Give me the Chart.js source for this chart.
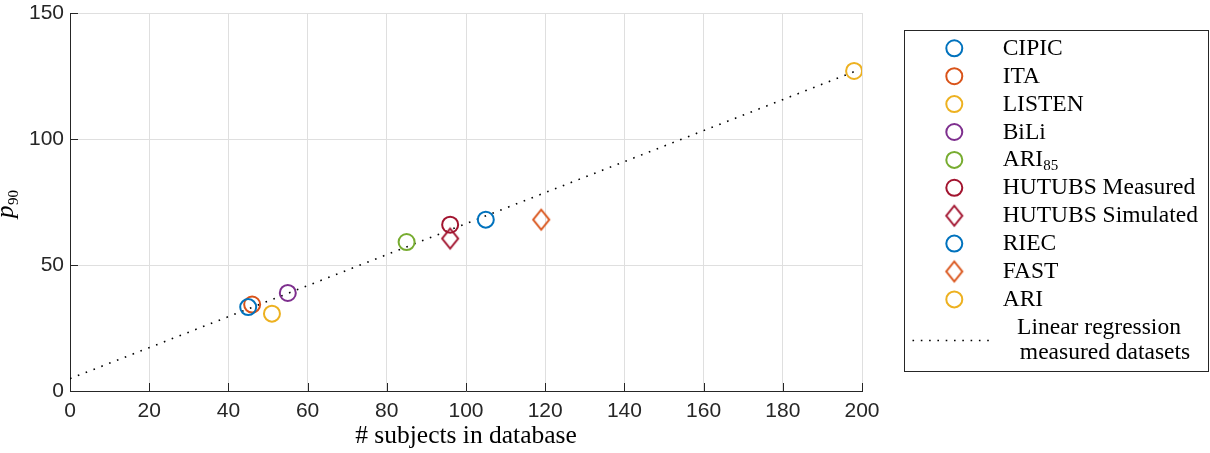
<!DOCTYPE html>
<html><head><meta charset="utf-8">
<script src="https://cdn.jsdelivr.net/npm/chart.js@4.4.0/dist/chart.umd.min.js"></script>
<style>html,body{margin:0;padding:0;background:#fff}#wrap{position:relative;width:1210px;height:453px}</style>
</head><body><div id="wrap"><canvas id="c" width="1210" height="453"></canvas></div>
<script>
const datasetNames = ['CIPIC','ITA','LISTEN','BiLi','ARI85','HUTUBS Measured','HUTUBS Simulated','RIEC','FAST','ARI'];
const subjects = [45, 46, 51, 55, 85, 96, 96, 105, 119, 198];
const p90 = [33.3, 34.3, 30.7, 38.9, 59.1, 66, 60.5, 68, 68, 127];
const markerKinds = ['circle','circle','circle','circle','circle','circle','diamond','circle','diamond','circle'];
const colors = ['#0072BD','#D95319','#EDB120','#7E2F8E','#77AC30','#A2142F','#A2142F','#0072BD','#D95319','#EDB120'];
const regressionX = [0, 198];
const regressionY = [4.9, 126.7];
const regressionLabel = ['Linear regression', 'measured datasets'];
const xTickValues = [0,20,40,60,80,100,120,140,160,180,200];
const yTickValues = [0,50,100,150];
const xTitle = '# subjects in database';

const AX = '#262626';
const SANS = '"Liberation Sans", Arial, sans-serif';
const SERIF = '"Liberation Serif", "Times New Roman", serif';

function diamondCanvas(color) {
  const c = document.createElement('canvas');
  c.width = 24; c.height = 28;
  const g = c.getContext('2d');
  const cx = 12, cy = 14, hw = 8, hh = 10;
  g.strokeStyle = color; g.lineWidth = 2;
  g.beginPath();
  g.moveTo(cx, cy - hh); g.lineTo(cx + hw, cy); g.lineTo(cx, cy + hh); g.lineTo(cx - hw, cy); g.closePath();
  g.stroke();
  return c;
}
const diamonds = {};
function markerStyle(i) {
  if (markerKinds[i] === 'diamond') {
    if (!diamonds[colors[i]]) diamonds[colors[i]] = diamondCanvas(colors[i]);
    return diamonds[colors[i]];
  }
  return 'circle';
}

const datasets = datasetNames.map((n, i) => ({
  label: n,
  data: [{x: subjects[i], y: p90[i]}],
  pointStyle: markerStyle(i),
  pointRadius: 8,
  pointHoverRadius: 8,
  borderColor: colors[i],
  backgroundColor: 'rgba(0,0,0,0)',
  pointBorderWidth: 2,
  showLine: false,
  order: 1
}));
datasets.push({
  label: 'regression',
  data: regressionX.map((x, i) => ({x, y: regressionY[i]})),
  showLine: true,
  borderColor: '#000',
  borderWidth: 1.6,
  borderDash: [1.6, 6.8],
  pointRadius: 0,
  fill: false,
  order: 2
});

const overlay = {
  id: 'overlay',
  afterDraw(chart) {
    const ctx = chart.ctx;
    const xs = chart.scales.x, ys = chart.scales.y;
    const area = chart.chartArea;
    ctx.save();
    // inward ticks
    ctx.strokeStyle = AX; ctx.lineWidth = 1;
    ctx.beginPath();
    xTickValues.forEach(v => {
      const px = Math.round(xs.getPixelForValue(v)) + 0.5;
      ctx.moveTo(px, area.bottom); ctx.lineTo(px, area.bottom - 8);
    });
    yTickValues.forEach(v => {
      const py = Math.round(ys.getPixelForValue(v)) + 0.5;
      ctx.moveTo(area.left, py); ctx.lineTo(area.left + 8, py);
    });
    ctx.stroke();

    // x title
    ctx.fillStyle = '#000';
    ctx.font = '25.5px ' + SERIF;
    ctx.textAlign = 'center'; ctx.textBaseline = 'alphabetic';
    ctx.fillText(xTitle, (area.left + area.right) / 2, 443);

    // y title p_90
    ctx.save();
    ctx.translate(13, 218);
    ctx.rotate(-Math.PI / 2);
    ctx.textAlign = 'left';
    ctx.font = 'italic 25px ' + SERIF;
    ctx.fillText('p', 0, 0);
    const pw = ctx.measureText('p').width;
    ctx.font = '15px ' + SERIF;
    ctx.fillText('90', pw + 0.5, 5);
    ctx.restore();

    // legend box
    ctx.strokeStyle = AX; ctx.lineWidth = 1;
    ctx.strokeRect(904.5, 30.5, 304, 341);
    const mx = 954.3, tx = 1002.7;
    datasetNames.forEach((n, i) => {
      const cy = 48.3 + 27.9 * i;
      ctx.strokeStyle = colors[i]; ctx.lineWidth = 2;
      if (markerKinds[i] === 'diamond') {
        const img = markerStyle(i);
        ctx.drawImage(img, mx - img.width / 2, cy - img.height / 2);
      } else {
        ctx.beginPath(); ctx.arc(mx, cy, 8, 0, Math.PI * 2); ctx.stroke();
      }
      ctx.fillStyle = '#000';
      ctx.textAlign = 'left';
      ctx.font = '23.5px ' + SERIF;
      if (n === 'ARI85') {
        ctx.fillText('ARI', tx, cy + 6.5);
        const w = ctx.measureText('ARI').width;
        ctx.font = '15px ' + SERIF;
        ctx.fillText('85', tx + w, cy + 10);
      } else {
        ctx.fillText(n, tx, cy + 6.5);
      }
    });
    // regression legend
    ctx.strokeStyle = '#000'; ctx.lineWidth = 1.6;
    ctx.setLineDash([1.6, 6.7]);
    ctx.beginPath(); ctx.moveTo(912.5, 340.5); ctx.lineTo(992, 340.5); ctx.stroke();
    ctx.setLineDash([]);
    ctx.font = '23.5px ' + SERIF;
    ctx.textAlign = 'center';
    ctx.fillText(regressionLabel[0], 1099, 327.7 + 6.5);
    ctx.fillText(regressionLabel[1], 1105, 352.7 + 6.5);
    ctx.restore();
  }
};

new Chart(document.getElementById('c'), {
  type: 'scatter',
  data: { datasets },
  options: {
    responsive: false,
    animation: false,
    events: [],
    layout: { padding: { top: 13, right: 348, bottom: 0, left: 0 } },
    plugins: { legend: { display: false }, tooltip: { enabled: false } },
    scales: {
      x: {
        type: 'linear', min: 0, max: 200,
        afterFit: s => { s.height = 62; s.paddingLeft = 0; s.paddingRight = 0; },
        afterBuildTicks: s => { s.ticks = xTickValues.map(v => ({value: v})); },
        ticks: { font: { size: 21, family: SANS }, color: AX, padding: 8, maxRotation: 0 },
        grid: { color: '#dfdfdf', lineWidth: 1, drawTicks: false },
        border: { display: true, color: AX, width: 1 }
      },
      y: {
        type: 'linear', min: 0, max: 150,
        afterFit: s => { s.width = 70; s.paddingTop = 0; s.paddingBottom = 0; },
        afterBuildTicks: s => { s.ticks = yTickValues.map(v => ({value: v})); },
        ticks: { font: { size: 21, family: SANS }, color: AX, padding: 6 },
        grid: { color: '#dfdfdf', lineWidth: 1, drawTicks: false },
        border: { display: true, color: AX, width: 1 }
      }
    }
  },
  plugins: [overlay]
});
</script></body></html>
